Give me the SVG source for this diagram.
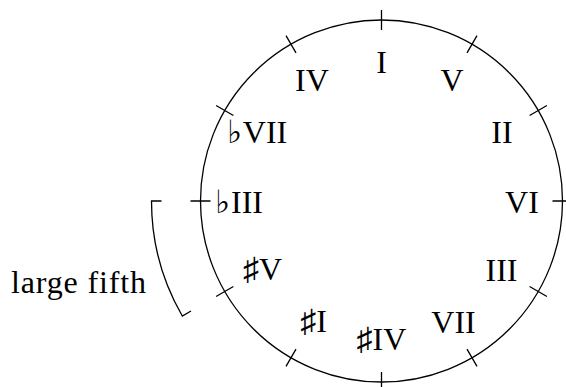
<svg xmlns="http://www.w3.org/2000/svg" width="566" height="387" viewBox="0 0 566 387">
<style>
.ln{fill:none;stroke:#000;stroke-width:1.3}
.t{font-family:'Liberation Serif','DejaVu Serif',serif;font-size:32px;fill:#000;text-anchor:middle}
.f{font-family:'DejaVu Sans',sans-serif;font-size:32px;fill:#000}
</style>
<rect width="566" height="387" fill="#fff"/>
<g id="connectors">
<circle class="ln" cx="381.5" cy="201" r="181"/>
<path class="ln" d="M381.5,30L381.5,10M467,52.9L477,35.6M529.6,115.5L546.9,105.5M552.5,201L572.5,201M529.6,286.5L546.9,296.5M467,349.1L477,366.4M381.5,372L381.5,392M296,349.1L286,366.4M233.4,286.5L216.1,296.5M210.5,201L190.5,201M233.4,115.5L216.1,105.5M296,52.9L286,35.6"/>
<path class="ln" d="M161.5,201L151.5,201A230,230 0 0 0 182.3,316L191,311"/>
</g>
<g id="n-I"><text class="t" x="381.5" y="73">I</text></g>
<g id="n-V"><text class="t" x="452" y="91">V</text></g>
<g id="n-II"><text class="t" x="502" y="143">II</text></g>
<g id="n-VI"><text class="t" x="522" y="213">VI</text></g>
<g id="n-III"><text class="t" x="501.5" y="281">III</text></g>
<g id="n-VII"><text class="t" x="453.5" y="333">VII</text></g>
<g id="n-sIV"><text class="t" x="381.5" y="350">♯IV</text></g>
<g id="n-sI"><text class="t" x="313.5" y="332">♯I</text></g>
<g id="n-sV"><text class="t" x="262.5" y="280">♯V</text></g>
<g id="n-fIII"><text class="f" x="215" y="213">♭</text><text class="t" x="247" y="213">III</text></g>
<g id="n-fVII"><text class="f" x="227" y="143">♭</text><text class="t" x="265" y="143">VII</text></g>
<g id="n-IV"><text class="t" x="312" y="91">IV</text></g>
<g id="label"><text class="t" x="78.5" y="293" textLength="135" lengthAdjust="spacing">large fifth</text></g>
</svg>
